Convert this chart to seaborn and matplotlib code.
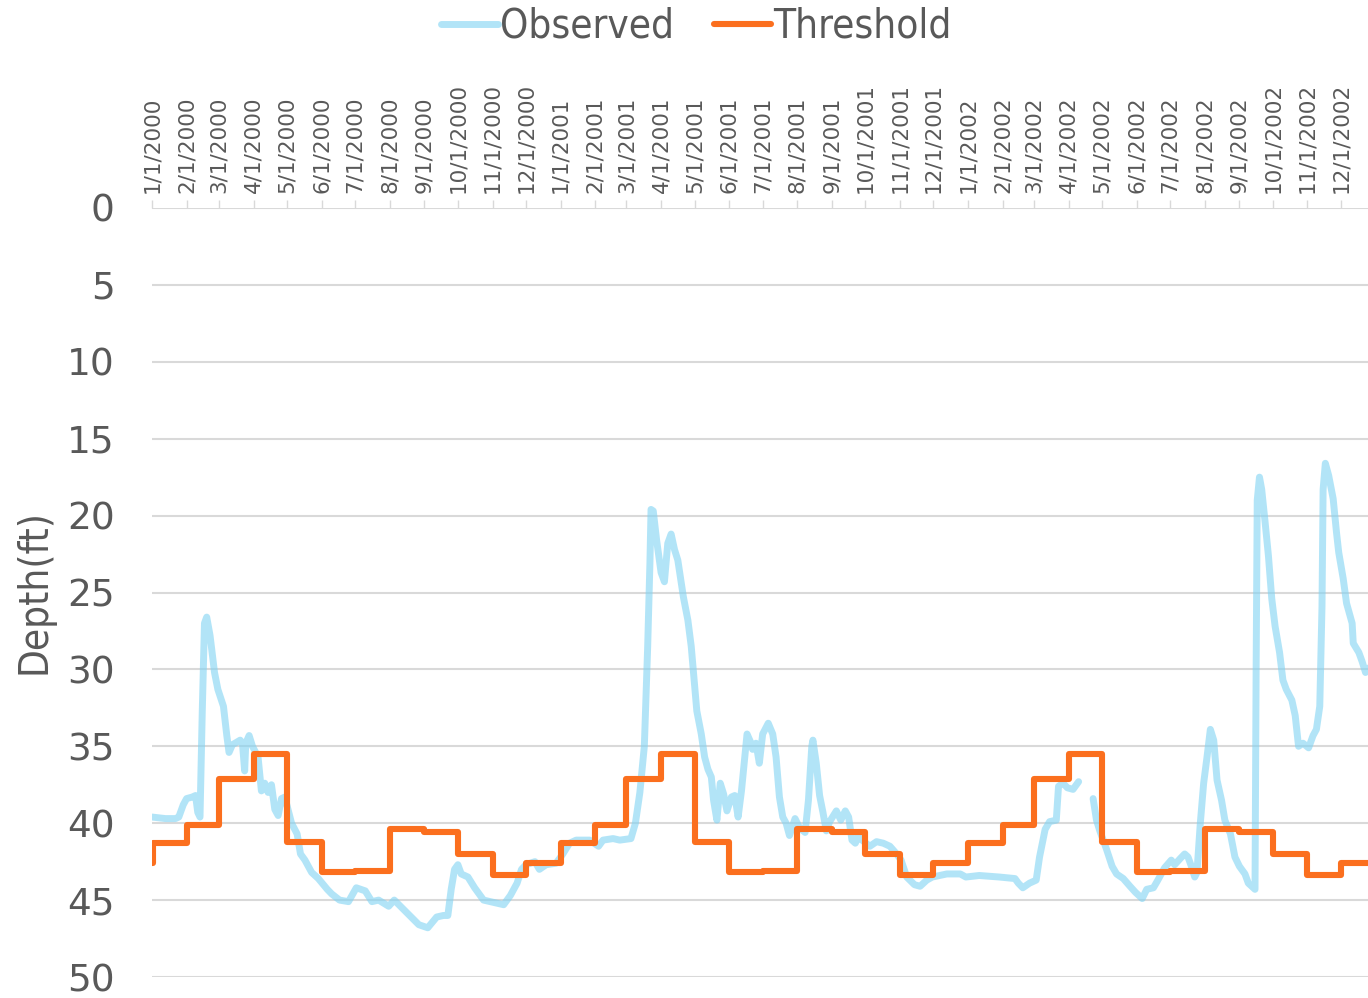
import numpy as np
import pandas as pd
import seaborn as sns
import matplotlib.pyplot as plt
import matplotlib.dates as mdates
from matplotlib.lines import Line2D

sns.set_theme(style='white')
plt.rcParams['font.family'] = ['DejaVu Sans']

#%% data
obs_dates = [
    '2000-01-01', '2000-01-13', '2000-01-22', '2000-01-25', '2000-01-29', '2000-02-01', '2000-02-06',
    '2000-02-09', '2000-02-11', '2000-02-13', '2000-02-15', '2000-02-17', '2000-02-19', '2000-02-22',
    '2000-02-26', '2000-02-29', '2000-03-05', '2000-03-08', '2000-03-10', '2000-03-13', '2000-03-20',
    '2000-03-22', '2000-03-24', '2000-03-25', '2000-03-28', '2000-03-31', '2000-04-05', '2000-04-08',
    '2000-04-11', '2000-04-14', '2000-04-17', '2000-04-20', '2000-04-23', '2000-04-26', '2000-04-29',
    '2000-05-05', '2000-05-10', '2000-05-13', '2000-05-17', '2000-05-23', '2000-05-29', '2000-06-06',
    '2000-06-10', '2000-06-17', '2000-06-25', '2000-07-02', '2000-07-10', '2000-07-16', '2000-07-22',
    '2000-07-31', '2000-08-05', '2000-08-16', '2000-08-27', '2000-09-04', '2000-09-12', '2000-09-18',
    '2000-09-22', '2000-09-25', '2000-09-28', '2000-10-01', '2000-10-04', '2000-10-10', '2000-10-16',
    '2000-10-24', '2000-10-30', '2000-11-05', '2000-11-11', '2000-11-17', '2000-11-23', '2000-11-27',
    '2000-12-01', '2000-12-09', '2000-12-13', '2000-12-19', '2000-12-28',
    '2001-01-03', '2001-01-09', '2001-01-15', '2001-01-27', '2001-02-04', '2001-02-08', '2001-02-17',
    '2001-02-23', '2001-03-05', '2001-03-09', '2001-03-13', '2001-03-17', '2001-03-20', '2001-03-22',
    '2001-03-23', '2001-03-25', '2001-03-28', '2001-04-01', '2001-04-04', '2001-04-07', '2001-04-10',
    '2001-04-13', '2001-04-16', '2001-04-21', '2001-04-25', '2001-04-28', '2001-05-03', '2001-05-07',
    '2001-05-10', '2001-05-13', '2001-05-16', '2001-05-18', '2001-05-21', '2001-05-24', '2001-05-27',
    '2001-05-30', '2001-06-03', '2001-06-06', '2001-06-09', '2001-06-12', '2001-06-17', '2001-06-20',
    '2001-06-22', '2001-06-25', '2001-06-28', '2001-07-01', '2001-07-06', '2001-07-10', '2001-07-13',
    '2001-07-16', '2001-07-19', '2001-07-22', '2001-07-25', '2001-07-30', '2001-08-03', '2001-08-08',
    '2001-08-11', '2001-08-14', '2001-08-15', '2001-08-18', '2001-08-21', '2001-08-24', '2001-08-27',
    '2001-08-30', '2001-09-05', '2001-09-09', '2001-09-13', '2001-09-16', '2001-09-19', '2001-09-22',
    '2001-09-25', '2001-09-28', '2001-10-05', '2001-10-11', '2001-10-17', '2001-10-23', '2001-10-29',
    '2001-11-02', '2001-11-07', '2001-11-14', '2001-11-19', '2001-11-25', '2001-11-30', '2001-12-13',
    '2001-12-25', '2001-12-30',
    '2002-01-11', '2002-01-29', '2002-02-12', '2002-02-15', '2002-02-19', '2002-02-25', '2002-03-03',
    '2002-03-06', '2002-03-11', '2002-03-15', '2002-03-21', '2002-03-23', '2002-03-27', '2002-03-31',
    '2002-04-05', '2002-04-10', '2002-04-16', '2002-04-23', '2002-04-26', '2002-04-29', '2002-05-05',
    '2002-05-10', '2002-05-14', '2002-05-20', '2002-05-26', '2002-05-31', '2002-06-06', '2002-06-10',
    '2002-06-16', '2002-06-20', '2002-06-26', '2002-07-02', '2002-07-05', '2002-07-10', '2002-07-14',
    '2002-07-17', '2002-07-20', '2002-07-23', '2002-07-25', '2002-07-28', '2002-07-31', '2002-08-03',
    '2002-08-06', '2002-08-09', '2002-08-12', '2002-08-16', '2002-08-19', '2002-08-24', '2002-08-28',
    '2002-09-01', '2002-09-06', '2002-09-09', '2002-09-15', '2002-09-16', '2002-09-17', '2002-09-19',
    '2002-09-21', '2002-09-24', '2002-09-27', '2002-09-30', '2002-10-03', '2002-10-07', '2002-10-10',
    '2002-10-13', '2002-10-18', '2002-10-21', '2002-10-24', '2002-10-28', '2002-11-02', '2002-11-06',
    '2002-11-09', '2002-11-12', '2002-11-14', '2002-11-15', '2002-11-17', '2002-11-20', '2002-11-24',
    '2002-11-27', '2002-11-29', '2002-12-03', '2002-12-06', '2002-12-11', '2002-12-12', '2002-12-17',
    '2002-12-20', '2002-12-23', '2002-12-26',
]
obs_depth = [
    39.6, 39.7, 39.7, 39.6, 38.8, 38.4, 38.3,
    38.2, 39.3, 39.6, 32.8, 27.0, 26.6, 27.8,
    30.2, 31.3, 32.4, 34.3, 35.4, 34.9, 34.6,
    34.8, 36.6, 34.8, 34.3, 35.0, 35.7, 37.9,
    37.4, 38.0, 37.5, 39.1, 39.5, 38.4, 38.3,
    40.0, 40.7, 42.0, 42.4, 43.2, 43.6, 44.3,
    44.6, 45.0, 45.1, 44.2, 44.4, 45.1, 45.0,
    45.4, 45.0, 45.8, 46.6, 46.8, 46.1, 46.0,
    46.0, 44.3, 43.0, 42.7, 43.3, 43.5, 44.2,
    45.0, 45.1, 45.2, 45.3, 44.7, 43.9, 43.0,
    42.7, 42.5, 43.0, 42.7, 42.6,
    42.0, 41.3, 41.1, 41.1, 41.5, 41.1, 41.0,
    41.1, 41.0, 40.0, 38.0, 35.0, 28.5, 23.1,
    19.6, 19.7, 21.6, 23.7, 24.3, 21.8, 21.2,
    22.2, 22.9, 25.3, 26.8, 28.5, 32.7, 34.2,
    35.7, 36.5, 37.0, 38.5, 39.8, 37.4, 38.1,
    39.2, 38.3, 38.2, 39.6, 37.9, 34.2, 34.7,
    35.2, 34.8, 36.1, 34.2, 33.5, 34.2, 35.7,
    38.3, 39.6, 40.0, 40.8, 39.7, 40.3, 40.6,
    38.5, 35.0, 34.6, 36.1, 38.2, 39.3, 40.5,
    39.9, 39.2, 39.8, 39.2, 39.6, 41.1, 41.3,
    40.8, 41.1, 41.5, 41.2, 41.3, 41.5, 42.0,
    42.4, 43.5, 44.0, 44.1, 43.7, 43.5, 43.3,
    43.3, 43.5,
    43.4, 43.5, 43.6, 43.9, 44.2, 43.9, 43.7,
    42.2, 40.4, 39.9, 39.8, 37.6, 37.4, 37.7,
    37.8, 37.3, np.nan, 38.4, 39.8, 40.5, 41.7,
    42.8, 43.3, 43.6, 44.1, 44.5, 44.9, 44.3,
    44.2, 43.7, 42.9, 42.4, 42.7, 42.3, 42.0,
    42.2, 42.8, 43.5, 43.2, 40.0, 37.4, 35.7,
    33.9, 34.6, 37.2, 38.5, 39.8, 40.7, 42.2,
    42.8, 43.3, 43.9, 44.3, 30.0, 19.0, 17.5,
    18.3, 20.4, 22.6, 25.4, 27.2, 28.9, 30.7,
    31.3, 32.0, 33.0, 35.0, 34.8, 35.1, 34.3,
    33.9, 32.4, 25.9, 18.3, 16.6, 17.4, 18.9,
    21.1, 22.4, 24.1, 25.7, 27.0, 28.3, 28.9,
    29.5, 30.2, 29.9,
]

# monthly threshold (first day still carries the December value)
thr_dates = ['2000-01-01', '2000-01-02'] \
    + [d.strftime('%Y-%m-%d') for d in pd.date_range('2000-02-01', '2002-12-01', freq='MS')] + ['2002-12-31']
thr_depth = [
    42.6,
    41.3, 40.1, 37.1, 35.5, 41.2, 43.2, 43.1, 40.4, 40.6, 42.0, 43.4, 42.6,
    41.3, 40.1, 37.1, 35.5, 41.2, 43.2, 43.1, 40.4, 40.6, 42.0, 43.4, 42.6,
    41.3, 40.1, 37.1, 35.5, 41.2, 43.2, 43.1, 40.4, 40.6, 42.0, 43.4, 42.6,
    42.6,
]

GREY = '#595959'
GRID = '#D9D9D9'
BLUE = '#7FD3F3'
ORANGE = '#FB6F1E'
NARROW = dict(family='DejaVu Sans', stretch='condensed')

df_obs = pd.DataFrame({'date': pd.to_datetime(obs_dates), 'depth': obs_depth})
df_obs['seg'] = df_obs['depth'].isna().cumsum()
df_obs = df_obs.dropna()
df_thr = pd.DataFrame({'date': pd.to_datetime(thr_dates), 'depth': thr_depth})

#%% plot
fig = plt.figure(figsize=(13.68, 9.98), dpi=100)
ax = fig.add_axes([152 / 1368, 21 / 998, 1216 / 1368, 769 / 998])

sns.lineplot(data=df_obs, x='date', y='depth', units='seg', estimator=None,
             color=BLUE, alpha=0.6, lw=5, ax=ax, zorder=2)
sns.lineplot(data=df_thr, x='date', y='depth', drawstyle='steps-post',
             color=ORANGE, lw=4.4, ax=ax, zorder=3)

months = pd.date_range('2000-01-01', '2002-12-01', freq='MS')
ax.set_xticks(mdates.date2num(months))
ax.set_xticklabels([f'{d.month}/1/{d.year}' for d in months], rotation=90,
                   fontsize=15.5, color=GREY)
ax.xaxis.tick_top()
ax.tick_params(axis='x', length=6, width=1, color=GRID, pad=5)
ax.set_xlim(mdates.date2num(pd.Timestamp('2000-01-01')),
            mdates.date2num(pd.Timestamp('2002-12-25 05:00')))

ax.set_ylim(50, 0)
ax.set_yticks(range(0, 51, 5))
ax.tick_params(axis='y', length=0, labelsize=27, labelcolor=GREY, pad=27)
ax.grid(axis='y', color=GRID, lw=1.5)
ax.grid(axis='x', visible=False)
for s in ax.spines.values():
    s.set_visible(False)
ax.set_xlabel('')
ax.set_ylabel('')
fig.text(34 / 1368, 1 - 592 / 998, 'Depth(ft)', rotation=90, ha='center', va='center',
         fontsize=29, color=GREY, **NARROW)

handles = [Line2D([], [], color=BLUE, alpha=0.6, lw=5),
           Line2D([], [], color=ORANGE, lw=4.4)]
fig.legend(handles, ['Observed', 'Threshold'], loc='center',
           bbox_to_anchor=(696 / 1368, 1 - 27 / 998),
           ncol=2, frameon=False, prop=dict(size=29, **NARROW), labelcolor=GREY,
           handlelength=1.41, handletextpad=0.05, columnspacing=1.0, borderpad=0.2)

fig.savefig('out.png', dpi=100)
